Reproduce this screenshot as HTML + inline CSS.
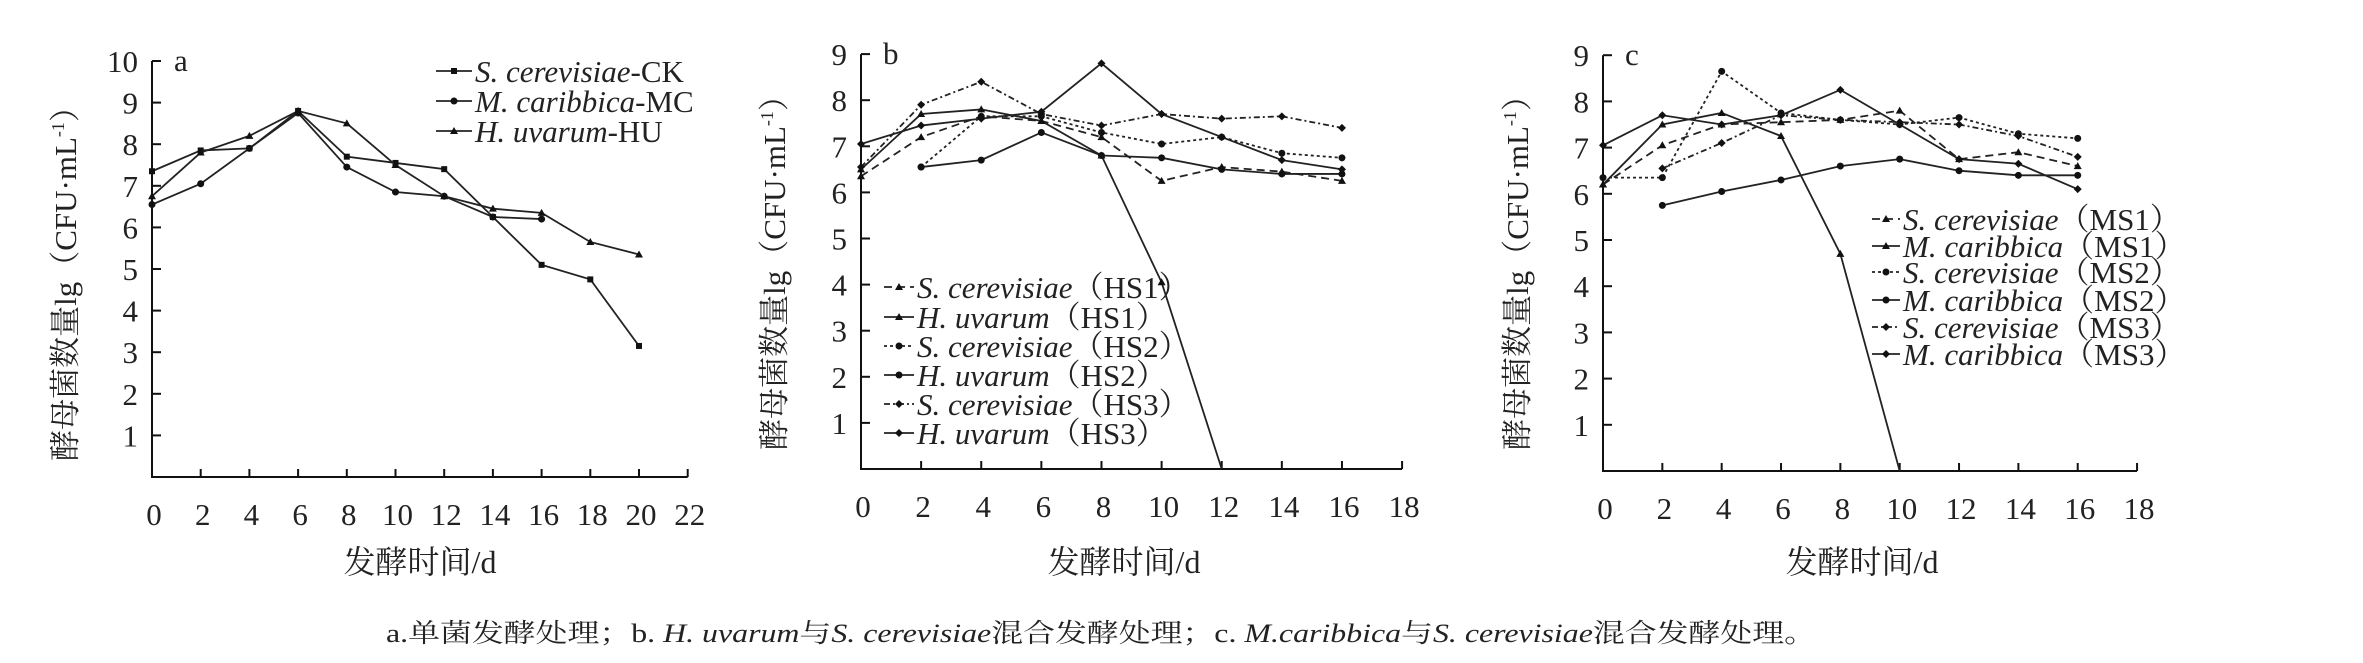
<!DOCTYPE html>
<html><head><meta charset="utf-8"><style>
body{margin:0;background:#fff}
svg{display:block}
text{font-family:"Liberation Serif","Noto Serif CJK SC","Noto Sans CJK SC",serif;fill:#222}
</style></head><body>
<svg id="s" width="2363" height="663" viewBox="0 0 2363 663" xmlns="http://www.w3.org/2000/svg"></svg>
<script>
var s=document.getElementById('s'),h='';
function T(x,y,t,o){o=o||{};h+='<text x="'+x+'" y="'+y+'" font-size="'+(o.fs||31)+'" text-anchor="'+(o.a||'start')+'"'+(o.it?' font-style="italic"':'')+(o.tl?' textLength="'+o.tl+'" lengthAdjust="spacingAndGlyphs"':'')+(o.tr?' transform="'+o.tr+'"':'')+'>'+t+'</text>';}
function mk(x,y,m){
 if(m=='sq')h+='<rect x="'+(x-3)+'" y="'+(y-3)+'" width="6" height="6" fill="#111"/>';
 else if(m=='tri')h+='<polygon points="'+x+','+(y-4)+' '+(x+4)+','+(y+3)+' '+(x-4)+','+(y+3)+'" fill="#111"/>';
 else if(m=='dia')h+='<polygon points="'+x+','+(y-4)+' '+(x+4)+','+y+' '+x+','+(y+4)+' '+(x-4)+','+y+'" fill="#111"/>';
 else h+='<circle cx="'+x+'" cy="'+y+'" r="3.5" fill="#111"/>';
}
function panel(P){
 var X=function(d){return P.x0+d*P.dx},Y=function(v){return P.y0-v*P.dy};
 h+='<path d="M'+P.x0+','+Y(P.ymax)+'V'+P.y0+'H'+X(P.xmax)+'" fill="none" stroke="#111" stroke-width="2"/>';
 for(var v=1;v<=P.ymax;v++){h+='<line x1="'+P.x0+'" x2="'+(P.x0+9)+'" y1="'+Y(v)+'" y2="'+Y(v)+'" stroke="#111" stroke-width="2"/>';T(P.x0-14,Y(v)+11,v,{a:'end'});}
 for(var d=0;d<=P.xmax;d+=2){h+='<line x1="'+X(d)+'" x2="'+X(d)+'" y1="'+P.y0+'" y2="'+(P.y0-8)+'" stroke="#111" stroke-width="2"/>';T(X(d)+2,P.y0+48,d,{a:'middle'});}
 T(P.x0+22,Y(P.ymax)+10,P.lab,{});
 T(P.xl,563+10,'发酵时间/d',{a:'middle',fs:32});
 P.series.forEach(function(S){
  var pts=S.d.map(function(p){return X(p[0])+','+Y(p[1])}).join(' ');
  h+='<polyline points="'+pts+'" fill="none" stroke="#222" stroke-width="1.8"'+(S.da?' stroke-dasharray="'+S.da+'"':'')+'/>';
  S.d.forEach(function(p){if(p[1]>0)mk(X(p[0]),Y(p[1]),S.m)});
 });
 P.series.forEach(function(S,i){
  var y=P.ly[i];
  h+='<line x1="'+P.lx1+'" x2="'+P.lx2+'" y1="'+y+'" y2="'+y+'" stroke="#222" stroke-width="1.8"'+(S.da?' stroke-dasharray="'+S.da+'"':'')+'/>';
  mk((P.lx1+P.lx2)/2,y,S.m);
  h+='<text x="'+(P.lx2+3)+'" y="'+(y+11)+'" font-size="31"><tspan font-style="italic">'+S.n+'</tspan>'+S.s+'</text>';
 });
}
function ylab(x,yc){T(0,0,'酵母菌数量lg（CFU·mL<tspan font-size="18" dy="-12">-1</tspan><tspan dy="12">）</tspan>',{fs:31,a:'middle',tr:'translate('+(x+10)+','+yc+') rotate(-90)'});}
panel({x0:152,y0:477,dx:24.35,dy:41.6,ymax:10,xmax:22,lab:'a',xl:420,lx1:436,lx2:472,ly:[71,101,131],
series:[
{n:'S. cerevisiae',s:'-CK',m:'sq',d:[[0,7.35],[2,7.85],[4,7.9],[6,8.8],[8,7.7],[10,7.55],[12,7.4],[14,6.25],[16,5.1],[18,4.75],[20,3.15]]},
{n:'M. caribbica',s:'-MC',m:'dot',d:[[0,6.55],[2,7.05],[4,7.9],[6,8.75],[8,7.45],[10,6.85],[12,6.75],[14,6.25],[16,6.2]]},
{n:'H. uvarum',s:'-HU',m:'tri',d:[[0,6.75],[2,7.8],[4,8.2],[6,8.8],[8,8.5],[10,7.5],[12,6.75],[14,6.45],[16,6.35],[18,5.65],[20,5.35]]}]});
panel({x0:861,y0:469,dx:30.06,dy:46.1,ymax:9,xmax:18,lab:'b',xl:1124,lx1:884,lx2:914,ly:[287,317,346,375,404,433],
series:[
{n:'S. cerevisiae',s:'（HS1）',m:'tri',da:'8,5',d:[[0,6.35],[2,7.2],[4,7.65],[6,7.55],[8,7.2],[10,6.25],[12,6.55],[14,6.45],[16,6.25]]},
{n:'H. uvarum',s:'（HS1）',m:'tri',d:[[0,6.5],[2,7.7],[4,7.8],[6,7.55],[8,6.8],[10,4.05],[12,0]]},
{n:'S. cerevisiae',s:'（HS2）',m:'dot',da:'3,3',d:[[2,6.55],[4,7.65],[6,7.65],[8,7.3],[10,7.05],[12,7.2],[14,6.85],[16,6.75]]},
{n:'H. uvarum',s:'（HS2）',m:'dot',d:[[2,6.55],[4,6.7],[6,7.3],[8,6.8],[10,6.75],[12,6.5],[14,6.4],[16,6.4]]},
{n:'S. cerevisiae',s:'（HS3）',m:'dia',da:'6,3,2,3',d:[[0,6.55],[2,7.9],[4,8.4],[6,7.7],[8,7.45],[10,7.7],[12,7.6],[14,7.65],[16,7.4]]},
{n:'H. uvarum',s:'（HS3）',m:'dia',d:[[0,7.05],[2,7.45],[4,7.6],[6,7.75],[8,8.8],[10,7.7],[12,7.2],[14,6.7],[16,6.5]]}]});
panel({x0:1603,y0:471,dx:29.67,dy:46.2,ymax:9,xmax:18,lab:'c',xl:1862,lx1:1872,lx2:1900,ly:[219,246,272,300,327,354],
series:[
{n:'S. cerevisiae',s:'（MS1）',m:'tri',da:'8,5',d:[[0,6.2],[2,7.05],[4,7.5],[6,7.55],[8,7.6],[10,7.8],[12,6.75],[14,6.9],[16,6.6]]},
{n:'M. caribbica',s:'（MS1）',m:'tri',d:[[0,6.2],[2,7.5],[4,7.75],[6,7.25],[8,4.7],[10,0]]},
{n:'S. cerevisiae',s:'（MS2）',m:'dot',da:'3,3',d:[[0,6.35],[2,6.35],[4,8.65],[6,7.75],[8,7.6],[10,7.5],[12,7.65],[14,7.3],[16,7.2]]},
{n:'M. caribbica',s:'（MS2）',m:'dot',d:[[2,5.75],[4,6.05],[6,6.3],[8,6.6],[10,6.75],[12,6.5],[14,6.4],[16,6.4]]},
{n:'S. cerevisiae',s:'（MS3）',m:'dia',da:'6,3,2,3',d:[[2,6.55],[4,7.1],[6,7.7],[8,7.6],[10,7.55],[12,7.5],[14,7.25],[16,6.8]]},
{n:'M. caribbica',s:'（MS3）',m:'dia',d:[[0,7.05],[2,7.7],[4,7.5],[6,7.7],[8,8.25],[10,7.5],[12,6.75],[14,6.65],[16,6.1]]}]});
ylab(66,276);ylab(775,265);ylab(1518,265);
h+='<text x="386" y="642" font-size="26" textLength="1430" lengthAdjust="spacingAndGlyphs">a.单菌发酵处理；b. <tspan font-style="italic">H. uvarum</tspan>与<tspan font-style="italic">S. cerevisiae</tspan>混合发酵处理；c. <tspan font-style="italic">M.caribbica</tspan>与<tspan font-style="italic">S. cerevisiae</tspan>混合发酵处理。</text>';
s.innerHTML=h;
</script>
</body></html>
